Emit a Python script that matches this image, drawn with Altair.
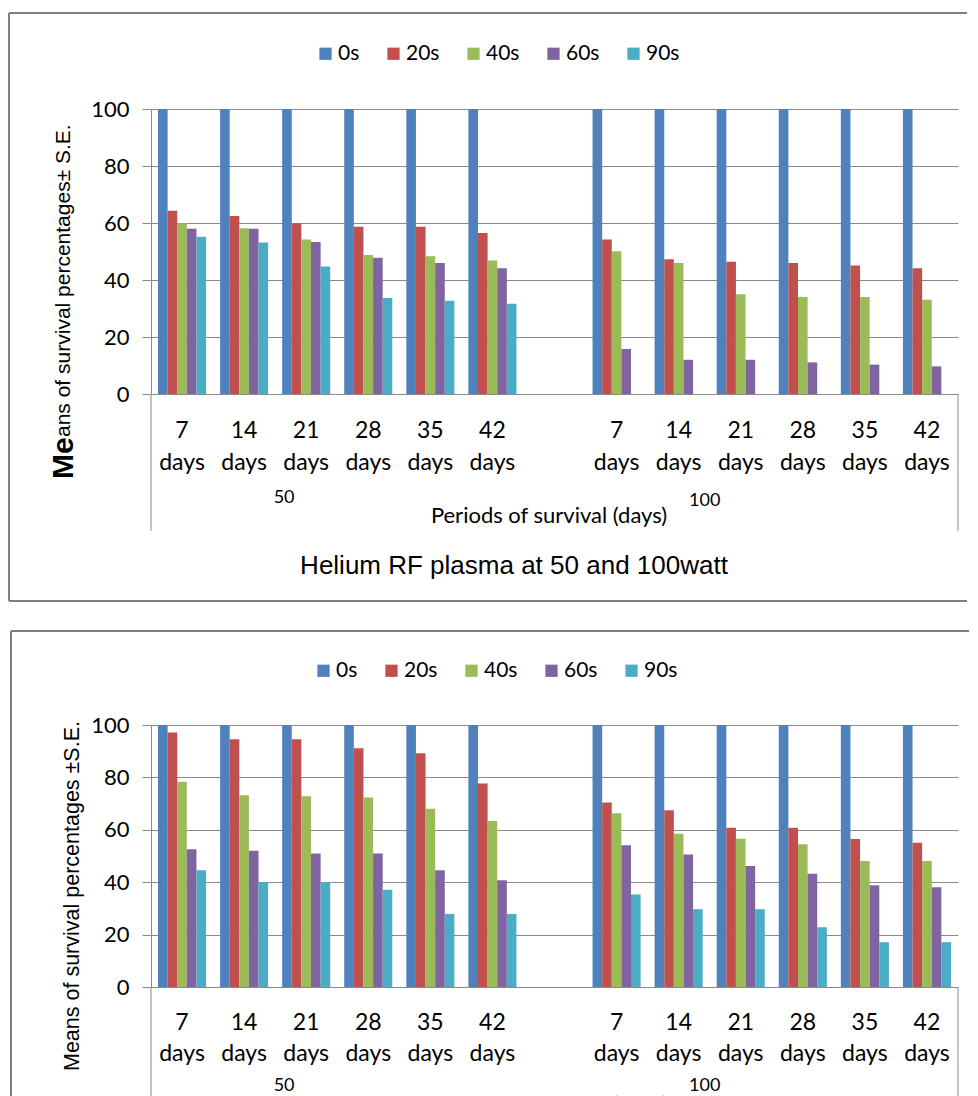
import altair as alt
import pandas as pd

series = ["0s", "20s", "40s", "60s", "90s"]
colors = ["#4F81BD", "#C0504D", "#9BBB59", "#8064A2", "#4BACC6"]
periods = ["7", "14", "21", "28", "35", "42"]
powers = ["50", "100"]

# Top panel: Helium RF plasma at 50 and 100 watt
top_50 = {
    "0s": [100, 100, 100, 100, 100, 100],
    "20s": [64.3, 62.5, 59.8, 58.7, 58.7, 56.5],
    "40s": [59.9, 58.2, 54.2, 48.8, 48.3, 46.8],
    "60s": [58.0, 58.0, 53.3, 47.8, 46.0, 44.1],
    "90s": [55.2, 53.2, 44.7, 33.7, 32.7, 31.7],
}
top_100 = {
    "0s": [100, 100, 100, 100, 100, 100],
    "20s": [54.2, 47.3, 46.4, 46.0, 45.1, 44.1],
    "40s": [50.1, 46.0, 35.0, 34.0, 34.0, 33.1],
    "60s": [15.8, 12.0, 12.0, 11.1, 10.3, 9.7],
    "90s": [None, None, None, None, None, None],
}

# Bottom panel
bot_50 = {
    "0s": [100, 100, 100, 100, 100, 100],
    "20s": [97.1, 94.6, 94.6, 91.1, 89.2, 77.7],
    "40s": [78.3, 73.2, 72.8, 72.3, 68.0, 63.4],
    "60s": [52.6, 52.0, 51.0, 51.0, 44.6, 40.7],
    "90s": [44.6, 40.1, 40.1, 37.1, 27.9, 27.9],
}
bot_100 = {
    "0s": [100, 100, 100, 100, 100, 100],
    "20s": [70.4, 67.5, 60.8, 60.8, 56.5, 55.1],
    "40s": [66.3, 58.5, 56.6, 54.5, 48.1, 48.1],
    "60s": [54.1, 50.6, 46.2, 43.2, 38.8, 38.1],
    "90s": [35.3, 29.7, 29.7, 22.8, 17.1, 17.1],
}

y_ticks = [0, 20, 40, 60, 80, 100]
x_title = "Periods of survival (days)"
top_title = "Helium  RF plasma at 50 and  100watt"
top_ytitle_big = "Me"
top_ytitle_rest = "ans of survival  percentages± S.E."
bot_ytitle = "Means of survival percentages ±S.E."

slots = [f"50|{p}" for p in periods] + ["gap"] + [f"100|{p}" for p in periods]

GRID = "#8a8a8a"
BORDER = "#7f7f7f"
W = 807


def build(v50, v100):
    rows = []
    for power, vals in (("50", v50), ("100", v100)):
        for s in series:
            for p, v in zip(periods, vals[s]):
                if v is None:
                    continue
                rows.append({"slot": f"{power}|{p}", "series": s, "value": v})
    return pd.DataFrame(rows)


labels = pd.DataFrame(
    {
        "slot": [f"{pw}|{p}" for pw in powers for p in periods],
        "num": [p for pw in powers for p in periods],
        "word": ["days" for pw in powers for p in periods],
    }
)
one = pd.DataFrame({"k": [0]})


def hline(x1, x2, y):
    return alt.Chart(one).mark_rule(color=BORDER, strokeWidth=2).encode(
        x=alt.value(x1), x2=alt.value(x2), y=alt.value(y)
    )


def vline(x, y1, y2, color=BORDER, w=2):
    return alt.Chart(one).mark_rule(color=color, strokeWidth=w).encode(
        x=alt.value(x), y=alt.value(y1), y2=alt.value(y2)
    )


def panel(df, h, g, ytitle_layers):
    xs = alt.X(
        "slot:N",
        scale=alt.Scale(domain=slots, paddingInner=0.226, paddingOuter=0.113),
        axis=None,
    )
    frame = [hline(g["bl"], g["br"], g["bt"]), vline(g["bl"], g["bt"], g["bb"])]
    if g.get("draw_bottom"):
        frame.append(hline(g["bl"], g["br"], g["bb"]))
    bars = alt.Chart(df).mark_bar().encode(
        x=xs,
        xOffset=alt.XOffset(
            "series:N", scale=alt.Scale(domain=series, paddingInner=0, paddingOuter=0)
        ),
        y=alt.Y(
            "value:Q",
            scale=alt.Scale(domain=[0, 100], nice=False),
            axis=alt.Axis(
                values=y_ticks, title=None, grid=True, gridColor=GRID,
                domainColor=GRID, tickColor=GRID, tickSize=9, labelPadding=13,
                labelFont="Lato", labelFontSize=22, labelColor="#000",
            ),
        ),
        color=alt.Color(
            "series:N",
            scale=alt.Scale(domain=series, range=colors),
            legend=alt.Legend(
                orient="none", legendX=g["lx"], legendY=g["ly"],
                direction="horizontal", title=None, symbolType="square",
                symbolSize=150, symbolStrokeWidth=0, labelFont="Lato",
                labelFontSize=21, labelColor="#000", columnPadding=23,
                labelOffset=2, padding=0,
            ),
        ),
    )
    nums = alt.Chart(labels).mark_text(
        font="Lato", fontSize=23, baseline="middle", color="#000"
    ).encode(x=xs, y=alt.value(g["num_y"]), text="num:N")
    words = alt.Chart(labels).mark_text(
        font="Lato", fontSize=23, baseline="middle", color="#000"
    ).encode(x=xs, y=alt.value(g["day_y"]), text="word:N")
    g50 = alt.Chart(pd.DataFrame({"slot": ["50|14"], "t": [powers[0]]})).mark_text(
        font="Lato", fontSize=18, baseline="middle", color="#000", dx=40
    ).encode(x=xs, y=alt.value(g["grp_y"]), text="t:N")
    g100 = alt.Chart(pd.DataFrame({"slot": ["100|14"], "t": [powers[1]]})).mark_text(
        font="Lato", fontSize=18, baseline="middle", color="#000", dx=26
    ).encode(x=xs, y=alt.value(g["grp_y2"]), text="t:N")
    xt = alt.Chart(one).mark_text(
        font="Lato", fontSize=22, baseline="middle", align="center", color="#000"
    ).encode(x=alt.value(398), y=alt.value(g["xt_y"]), text=alt.value(x_title))
    rule_l = vline(0, h, g["rule_end"], GRID, 1)
    rule_r = vline(W, h, g["rule_end"], GRID, 1)
    layers = frame + [rule_l, rule_r, bars, nums, words, g50, g100, xt] + ytitle_layers
    if g.get("title_y") is not None:
        layers.append(
            alt.Chart(one).mark_text(
                font="Liberation Sans", fontSize=26, baseline="middle",
                align="center", color="#000",
            ).encode(x=alt.value(363), y=alt.value(g["title_y"]), text=alt.value(top_title))
        )
    return alt.layer(*layers).properties(width=W, height=h)


# top panel y-title (large bold "Me" + rest)
top_yt = [
    alt.Chart(one).mark_text(
        font="Liberation Sans", fontSize=30, fontWeight="bold", angle=270,
        align="left", baseline="middle", color="#000",
    ).encode(x=alt.value(-87), y=alt.value(370), text=alt.value(top_ytitle_big)),
    alt.Chart(one).mark_text(
        font="Liberation Sans", fontSize=21, angle=270,
        align="left", baseline="middle", color="#000",
    ).encode(x=alt.value(-87), y=alt.value(328), text=alt.value(top_ytitle_rest)),
]
bot_yt = [
    alt.Chart(one).mark_text(
        font="Liberation Sans", fontSize=21.5, angle=270,
        align="left", baseline="middle", color="#000",
    ).encode(x=alt.value(-78), y=alt.value(346), text=alt.value(bot_ytitle)),
]

g_top = dict(bl=-142, br=816, bt=-96, bb=492, lx=164, ly=-66,
             num_y=322, day_y=354, grp_y=389, grp_y2=392, xt_y=407,
             rule_end=422, title_y=457, draw_bottom=True)
g_bot = dict(bl=-140, br=818, bt=-94, bb=420, lx=162, ly=-65,
             num_y=298, day_y=329, grp_y=361, grp_y2=361, xt_y=380,
             rule_end=400, title_y=None, draw_bottom=False)

top = panel(build(top_50, top_100), 285, g_top, top_yt)
bottom = panel(build(bot_50, bot_100), 262, g_bot, bot_yt)

chart = (
    alt.vconcat(top, bottom, spacing=28)
    .resolve_legend(color="independent")
    .properties(padding={"left": 0, "top": 4, "right": 0, "bottom": 0})
    .configure_view(stroke=None)
)

chart.save("out.html", embed_options={"renderer": "svg", "actions": False})
